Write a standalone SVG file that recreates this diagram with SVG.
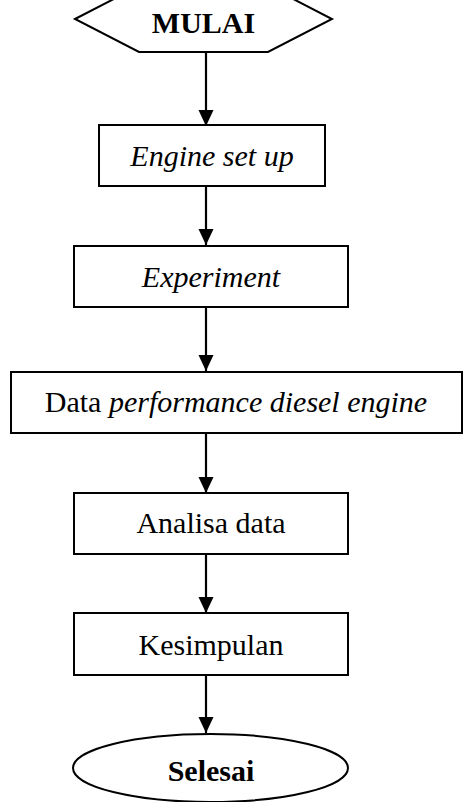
<svg xmlns="http://www.w3.org/2000/svg" width="466" height="802" viewBox="0 0 466 802">
<style>
.s{fill:#fff;stroke:#000;stroke-width:2}
.t{font-family:"Liberation Serif","Times New Roman",serif;font-size:30px;fill:#000;text-anchor:middle}
.i{font-style:italic}
.b{font-weight:bold}
.c{stroke:#000;stroke-width:2.2;fill:none}
</style>
<defs>
<marker id="ah" markerUnits="userSpaceOnUse" markerWidth="16" markerHeight="18" refX="17" refY="8" orient="auto" viewBox="0 0 17 16">
<path d="M0,0 L17,8 L0,16 Z" fill="#000"/>
</marker>
</defs>
<rect width="466" height="802" fill="#fff"/>
<g id="connectors">
<line class="c" x1="206" y1="52" x2="206" y2="126" marker-end="url(#ah)"/>
<line class="c" x1="206" y1="186" x2="206" y2="245" marker-end="url(#ah)"/>
<line class="c" x1="206" y1="307" x2="206" y2="371" marker-end="url(#ah)"/>
<line class="c" x1="206" y1="433" x2="206" y2="493" marker-end="url(#ah)"/>
<line class="c" x1="206" y1="554" x2="206" y2="613" marker-end="url(#ah)"/>
<line class="c" x1="206" y1="675" x2="206" y2="733" marker-end="url(#ah)"/>
</g>
<g id="mulai">
<polygon class="s" points="75,19 139,-14 268,-14 332,19 268,52 139,52"/>
<text class="t b" x="203.5" y="33">MULAI</text>
</g>
<g id="engine-setup">
<rect class="s" x="99" y="125" width="226" height="61"/>
<text class="t i" x="212" y="166">Engine set up</text>
</g>
<g id="experiment">
<rect class="s" x="74" y="246" width="274" height="61"/>
<text class="t i" x="211" y="287">Experiment</text>
</g>
<g id="data-performance">
<rect class="s" x="11" y="372" width="451" height="61"/>
<text class="t" x="236" y="412">Data <tspan class="i">performance diesel engine</tspan></text>
</g>
<g id="analisa">
<rect class="s" x="74" y="493" width="274" height="61"/>
<text class="t" x="211" y="533">Analisa data</text>
</g>
<g id="kesimpulan">
<rect class="s" x="74" y="613" width="274" height="62"/>
<text class="t" x="211" y="655">Kesimpulan</text>
</g>
<g id="selesai">
<ellipse class="s" cx="210.5" cy="768" rx="137.5" ry="34"/>
<text class="t b" x="211" y="781">Selesai</text>
</g>
</svg>
